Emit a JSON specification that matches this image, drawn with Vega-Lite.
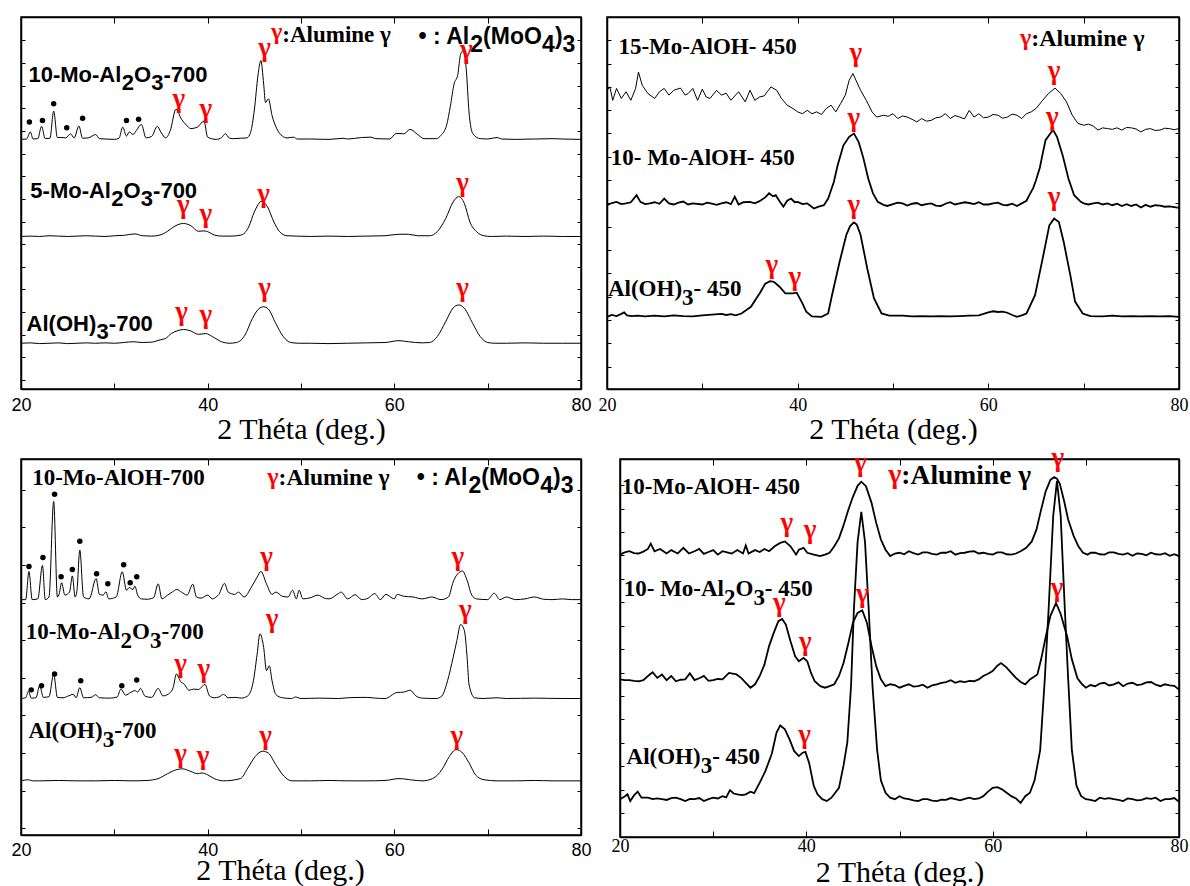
{
"$schema":"https://vega.github.io/schema/vega-lite/v6.json",
"padding":{"left":0,"top":15,"right":0,"bottom":0},
"background":"white",
"config":{"view":{"stroke":"black","strokeWidth":1.5},"axis":{"domainColor":"black","domainWidth":1.5,"tickColor":"black","tickWidth":1,"labelColor":"black","titleColor":"black","grid":false,"labelOverlap":false,"labelFlush":false}},
"datasets":{
"tl":[
{"s":"A","x":20,"y":12.3},{"s":"A","x":21,"y":12.4},{"s":"A","x":22,"y":12.2},{"s":"A","x":23,"y":12.3},{"s":"A","x":24,"y":12.4},{"s":"A","x":25,"y":12.2},{"s":"A","x":26,"y":12.3},{"s":"A","x":27,"y":12.4},{"s":"A","x":28,"y":12.3},{"s":"A","x":29,"y":12.4},{"s":"A","x":30,"y":12.3},{"s":"A","x":31,"y":12.5},{"s":"A","x":32,"y":12.7},{"s":"A","x":33,"y":12.5},{"s":"A","x":34,"y":12.6},{"s":"A","x":34.9,"y":13.2},{"s":"A","x":35.5,"y":13.6},{"s":"A","x":36.1,"y":14.9},{"s":"A","x":36.7,"y":15.6},{"s":"A","x":37.4,"y":16.0},{"s":"A","x":38.2,"y":15.6},{"s":"A","x":39.0,"y":14.7},{"s":"A","x":39.8,"y":14.9},{"s":"A","x":40.5,"y":14.1},{"s":"A","x":41.5,"y":12.7},{"s":"A","x":42.3,"y":12.3},{"s":"A","x":43.1,"y":12.5},{"s":"A","x":44.0,"y":14.5},{"s":"A","x":44.8,"y":19.0},{"s":"A","x":45.6,"y":21.8},{"s":"A","x":46.0,"y":22.1},{"s":"A","x":46.5,"y":21.5},{"s":"A","x":47.3,"y":17.6},{"s":"A","x":48.1,"y":14.1},{"s":"A","x":48.9,"y":12.5},{"s":"A","x":49.8,"y":12.3},{"s":"A","x":51,"y":12.3},{"s":"A","x":53,"y":12.2},{"s":"A","x":55,"y":12.3},{"s":"A","x":57,"y":12.4},{"s":"A","x":59,"y":12.5},{"s":"A","x":60.5,"y":13.0},{"s":"A","x":61.5,"y":12.7},{"s":"A","x":63,"y":12.4},{"s":"A","x":63.8,"y":12.5},{"s":"A","x":64.6,"y":14.1},{"s":"A","x":65.5,"y":18.1},{"s":"A","x":66.3,"y":21.8},{"s":"A","x":66.9,"y":22.6},{"s":"A","x":67.5,"y":21.7},{"s":"A","x":68.4,"y":17.6},{"s":"A","x":69.2,"y":14.1},{"s":"A","x":70.0,"y":12.5},{"s":"A","x":70.8,"y":12.3},{"s":"A","x":72,"y":12.3},{"s":"A","x":74,"y":12.4},{"s":"A","x":76,"y":12.3},{"s":"A","x":78,"y":12.3},{"s":"A","x":80,"y":12.3},
{"s":"B","x":20,"y":41.0},{"s":"B","x":21,"y":41.1},{"s":"B","x":22,"y":41.0},{"s":"B","x":23,"y":41.2},{"s":"B","x":24,"y":41.1},{"s":"B","x":25,"y":41.0},{"s":"B","x":26,"y":41.1},{"s":"B","x":27,"y":41.2},{"s":"B","x":28,"y":41.1},{"s":"B","x":29,"y":41.0},{"s":"B","x":30,"y":41.2},{"s":"B","x":31,"y":41.3},{"s":"B","x":32.2,"y":41.7},{"s":"B","x":33,"y":41.2},{"s":"B","x":34,"y":41.1},{"s":"B","x":34.9,"y":41.4},{"s":"B","x":35.7,"y":42.4},{"s":"B","x":36.5,"y":43.8},{"s":"B","x":37.4,"y":44.5},{"s":"B","x":38.2,"y":43.9},{"s":"B","x":39.0,"y":42.4},{"s":"B","x":39.6,"y":42.5},{"s":"B","x":40.0,"y":42.3},{"s":"B","x":40.7,"y":41.4},{"s":"B","x":41.5,"y":41.1},{"s":"B","x":42.5,"y":41.1},{"s":"B","x":43.6,"y":41.4},{"s":"B","x":44.4,"y":43.6},{"s":"B","x":45.0,"y":47.6},{"s":"B","x":45.8,"y":50.5},{"s":"B","x":46.4,"y":49.0},{"s":"B","x":47.1,"y":44.9},{"s":"B","x":47.7,"y":42.3},{"s":"B","x":48.5,"y":41.2},{"s":"B","x":49.5,"y":41.1},{"s":"B","x":51,"y":41.0},{"s":"B","x":53,"y":41.1},{"s":"B","x":55,"y":41.0},{"s":"B","x":57,"y":41.1},{"s":"B","x":59,"y":41.2},{"s":"B","x":60.5,"y":41.6},{"s":"B","x":61.5,"y":41.6},{"s":"B","x":62.5,"y":41.2},{"s":"B","x":63.8,"y":41.2},{"s":"B","x":64.6,"y":42.3},{"s":"B","x":65.5,"y":45.8},{"s":"B","x":66.3,"y":50.3},{"s":"B","x":66.9,"y":51.7},{"s":"B","x":67.5,"y":49.9},{"s":"B","x":68.1,"y":44.9},{"s":"B","x":68.8,"y":42.3},{"s":"B","x":69.6,"y":41.2},{"s":"B","x":70.4,"y":41.0},{"s":"B","x":72,"y":41.1},{"s":"B","x":74,"y":41.0},{"s":"B","x":76,"y":41.1},{"s":"B","x":78,"y":41.0},{"s":"B","x":80,"y":41.0},
{"s":"C","x":20,"y":67.1},{"s":"C","x":20.6,"y":67.2},{"s":"C","x":21.0,"y":69.1},{"s":"C","x":21.3,"y":67.2},{"s":"C","x":21.8,"y":67.3},{"s":"C","x":22.2,"y":70.6},{"s":"C","x":22.6,"y":67.3},{"s":"C","x":23.1,"y":67.4},{"s":"C","x":23.5,"y":74.7},{"s":"C","x":23.9,"y":67.6},{"s":"C","x":24.4,"y":67.6},{"s":"C","x":24.8,"y":67.5},{"s":"C","x":25.3,"y":68.6},{"s":"C","x":25.7,"y":67.5},{"s":"C","x":26.2,"y":70.7},{"s":"C","x":26.6,"y":67.4},{"s":"C","x":27.2,"y":67.5},{"s":"C","x":28.0,"y":68.4},{"s":"C","x":28.4,"y":67.3},{"s":"C","x":29,"y":67.2},{"s":"C","x":30,"y":67.1},{"s":"C","x":30.5,"y":67.4},{"s":"C","x":30.9,"y":70.4},{"s":"C","x":31.3,"y":68.0},{"s":"C","x":31.6,"y":69.1},{"s":"C","x":32.0,"y":68.4},{"s":"C","x":32.3,"y":69.3},{"s":"C","x":32.9,"y":71.1},{"s":"C","x":33.4,"y":67.5},{"s":"C","x":34.0,"y":67.9},{"s":"C","x":34.6,"y":70.6},{"s":"C","x":35.0,"y":69.0},{"s":"C","x":35.5,"y":67.5},{"s":"C","x":36.0,"y":69.5},{"s":"C","x":36.6,"y":75.2},{"s":"C","x":37.2,"y":72.5},{"s":"C","x":37.7,"y":71.0},{"s":"C","x":38.2,"y":70.0},{"s":"C","x":38.9,"y":70.4},{"s":"C","x":39.6,"y":72.0},{"s":"C","x":40.0,"y":67.7},{"s":"C","x":40.9,"y":67.1},{"s":"C","x":41.5,"y":67.6},{"s":"C","x":41.9,"y":68.6},{"s":"C","x":42.3,"y":67.5},{"s":"C","x":42.7,"y":67.3},{"s":"C","x":43.5,"y":67.4},{"s":"C","x":44.2,"y":67.5},{"s":"C","x":44.6,"y":69.0},{"s":"C","x":45.0,"y":75.0},{"s":"C","x":45.4,"y":84.5},{"s":"C","x":45.7,"y":88.3},{"s":"C","x":46.0,"y":82.0},{"s":"C","x":46.2,"y":77.0},{"s":"C","x":46.5,"y":78.0},{"s":"C","x":46.9,"y":73.5},{"s":"C","x":47.4,"y":70.0},{"s":"C","x":48.0,"y":68.0},{"s":"C","x":48.5,"y":67.5},{"s":"C","x":49.2,"y":67.7},{"s":"C","x":49.6,"y":67.2},{"s":"C","x":51,"y":67.2},{"s":"C","x":53,"y":67.1},{"s":"C","x":54.5,"y":67.4},{"s":"C","x":55,"y":67.2},{"s":"C","x":56.5,"y":67.6},{"s":"C","x":57.5,"y":67.7},{"s":"C","x":58,"y":67.3},{"s":"C","x":59.5,"y":67.2},{"s":"C","x":60.2,"y":68.7},{"s":"C","x":61.0,"y":68.6},{"s":"C","x":61.7,"y":69.8},{"s":"C","x":62.5,"y":68.4},{"s":"C","x":63.2,"y":67.3},{"s":"C","x":64.5,"y":67.3},{"s":"C","x":65.0,"y":68.2},{"s":"C","x":65.6,"y":70.9},{"s":"C","x":66.0,"y":76.0},{"s":"C","x":66.4,"y":82.0},{"s":"C","x":66.8,"y":84.5},{"s":"C","x":67.1,"y":90.0},{"s":"C","x":67.4,"y":91.0},{"s":"C","x":67.7,"y":86.1},{"s":"C","x":68.0,"y":74.5},{"s":"C","x":68.4,"y":68.7},{"s":"C","x":69.2,"y":67.3},{"s":"C","x":70,"y":67.2},{"s":"C","x":71,"y":67.6},{"s":"C","x":71.5,"y":67.2},{"s":"C","x":73,"y":67.1},{"s":"C","x":75,"y":67.2},{"s":"C","x":77,"y":67.3},{"s":"C","x":78,"y":67.2},{"s":"C","x":80,"y":67.1}
],
"tr":[
{"s":"D","x":20,"y":19.4},{"s":"D","x":20.5,"y":19.9},{"s":"D","x":21,"y":19.6},{"s":"D","x":21.5,"y":20.2},{"s":"D","x":21.8,"y":20.6},{"s":"D","x":22.1,"y":19.8},{"s":"D","x":22.6,"y":19.6},{"s":"D","x":23.2,"y":19.7},{"s":"D","x":24,"y":19.5},{"s":"D","x":25,"y":19.7},{"s":"D","x":26,"y":19.5},{"s":"D","x":27,"y":19.8},{"s":"D","x":28,"y":19.6},{"s":"D","x":29,"y":19.5},{"s":"D","x":30,"y":19.8},{"s":"D","x":31,"y":20.0},{"s":"D","x":32,"y":20.2},{"s":"D","x":32.5,"y":19.9},{"s":"D","x":33,"y":20.1},{"s":"D","x":33.5,"y":19.8},{"s":"D","x":34.1,"y":20.3},{"s":"D","x":35.1,"y":22.1},{"s":"D","x":36.1,"y":26.1},{"s":"D","x":36.6,"y":28.3},{"s":"D","x":37.1,"y":29.0},{"s":"D","x":37.5,"y":28.8},{"s":"D","x":38.1,"y":27.5},{"s":"D","x":38.7,"y":25.7},{"s":"D","x":39.45,"y":25.7},{"s":"D","x":39.9,"y":25.9},{"s":"D","x":40.5,"y":23.0},{"s":"D","x":40.9,"y":20.8},{"s":"D","x":41.5,"y":19.5},{"s":"D","x":42.5,"y":19.4},{"s":"D","x":43.2,"y":20.3},{"s":"D","x":43.6,"y":25.2},{"s":"D","x":44.4,"y":34.2},{"s":"D","x":45.1,"y":41.4},{"s":"D","x":45.5,"y":43.8},{"s":"D","x":45.9,"y":44.8},{"s":"D","x":46.2,"y":44.2},{"s":"D","x":46.6,"y":41.4},{"s":"D","x":47.3,"y":32.4},{"s":"D","x":48.0,"y":24.4},{"s":"D","x":48.8,"y":20.3},{"s":"D","x":49.6,"y":19.7},{"s":"D","x":51,"y":19.7},{"s":"D","x":52,"y":19.5},{"s":"D","x":53,"y":19.6},{"s":"D","x":54,"y":19.5},{"s":"D","x":55,"y":19.6},{"s":"D","x":56,"y":19.5},{"s":"D","x":57,"y":19.6},{"s":"D","x":58,"y":19.7},{"s":"D","x":59,"y":19.8},{"s":"D","x":60,"y":20.6},{"s":"D","x":60.5,"y":20.9},{"s":"D","x":61,"y":20.7},{"s":"D","x":61.5,"y":20.8},{"s":"D","x":62,"y":20.5},{"s":"D","x":62.5,"y":19.9},{"s":"D","x":63,"y":19.4},{"s":"D","x":63.5,"y":19.8},{"s":"D","x":64.0,"y":20.3},{"s":"D","x":64.9,"y":25.2},{"s":"D","x":65.7,"y":35.1},{"s":"D","x":66.4,"y":44.0},{"s":"D","x":66.9,"y":45.8},{"s":"D","x":67.4,"y":44.9},{"s":"D","x":67.9,"y":39.6},{"s":"D","x":68.6,"y":30.6},{"s":"D","x":69.1,"y":23.5},{"s":"D","x":69.9,"y":20.3},{"s":"D","x":70.7,"y":19.6},{"s":"D","x":72,"y":19.5},{"s":"D","x":73,"y":19.7},{"s":"D","x":74,"y":19.5},{"s":"D","x":75,"y":19.6},{"s":"D","x":76,"y":19.5},{"s":"D","x":77,"y":19.6},{"s":"D","x":78,"y":19.5},{"s":"D","x":79,"y":19.6},{"s":"D","x":80,"y":19.4},
{"s":"E","x":20,"y":49.4},{"s":"E","x":20.5,"y":50.0},{"s":"E","x":21,"y":50.3},{"s":"E","x":21.5,"y":49.7},{"s":"E","x":22,"y":49.9},{"s":"E","x":22.5,"y":50.2},{"s":"E","x":23.1,"y":52.1},{"s":"E","x":23.5,"y":50.3},{"s":"E","x":24,"y":49.7},{"s":"E","x":24.5,"y":49.9},{"s":"E","x":25,"y":50.2},{"s":"E","x":25.5,"y":49.8},{"s":"E","x":26,"y":51.2},{"s":"E","x":26.5,"y":49.9},{"s":"E","x":27,"y":49.6},{"s":"E","x":27.5,"y":50.1},{"s":"E","x":28,"y":50.4},{"s":"E","x":28.5,"y":49.6},{"s":"E","x":29,"y":49.9},{"s":"E","x":30,"y":49.6},{"s":"E","x":30.5,"y":50.1},{"s":"E","x":31,"y":49.8},{"s":"E","x":31.5,"y":49.5},{"s":"E","x":32,"y":49.9},{"s":"E","x":32.5,"y":50.2},{"s":"E","x":33,"y":49.7},{"s":"E","x":33.4,"y":51.7},{"s":"E","x":33.8,"y":49.6},{"s":"E","x":34.3,"y":50.2},{"s":"E","x":35,"y":50.3},{"s":"E","x":35.5,"y":49.9},{"s":"E","x":36,"y":50.5},{"s":"E","x":36.6,"y":51.5},{"s":"E","x":37.0,"y":52.6},{"s":"E","x":37.4,"y":51.8},{"s":"E","x":37.7,"y":52.1},{"s":"E","x":38.1,"y":50.5},{"s":"E","x":38.5,"y":49.0},{"s":"E","x":38.9,"y":50.6},{"s":"E","x":39.3,"y":51.2},{"s":"E","x":39.7,"y":50.2},{"s":"E","x":40.0,"y":50.3},{"s":"E","x":40.5,"y":49.7},{"s":"E","x":41,"y":49.9},{"s":"E","x":41.7,"y":48.5},{"s":"E","x":42.2,"y":49.0},{"s":"E","x":42.75,"y":49.4},{"s":"E","x":43.2,"y":51.2},{"s":"E","x":43.8,"y":55.7},{"s":"E","x":44.2,"y":60.2},{"s":"E","x":44.8,"y":65.5},{"s":"E","x":45.4,"y":67.8},{"s":"E","x":45.9,"y":68.7},{"s":"E","x":46.4,"y":66.4},{"s":"E","x":46.9,"y":62.0},{"s":"E","x":47.4,"y":56.6},{"s":"E","x":47.9,"y":52.6},{"s":"E","x":48.4,"y":50.3},{"s":"E","x":49.0,"y":49.5},{"s":"E","x":49.4,"y":49.2},{"s":"E","x":50,"y":49.7},{"s":"E","x":50.5,"y":50.1},{"s":"E","x":51,"y":49.9},{"s":"E","x":51.5,"y":49.3},{"s":"E","x":52,"y":49.8},{"s":"E","x":52.5,"y":50.0},{"s":"E","x":53,"y":49.4},{"s":"E","x":53.5,"y":49.7},{"s":"E","x":54,"y":49.9},{"s":"E","x":54.5,"y":49.3},{"s":"E","x":55,"y":49.2},{"s":"E","x":55.5,"y":49.8},{"s":"E","x":56,"y":50.2},{"s":"E","x":56.5,"y":49.6},{"s":"E","x":57,"y":49.9},{"s":"E","x":57.5,"y":50.2},{"s":"E","x":58,"y":50.0},{"s":"E","x":58.5,"y":49.7},{"s":"E","x":59,"y":50.2},{"s":"E","x":59.5,"y":49.6},{"s":"E","x":60,"y":49.6},{"s":"E","x":60.5,"y":49.9},{"s":"E","x":61,"y":50.1},{"s":"E","x":61.5,"y":49.5},{"s":"E","x":62,"y":49.4},{"s":"E","x":62.5,"y":49.8},{"s":"E","x":63,"y":49.2},{"s":"E","x":63.5,"y":49.9},{"s":"E","x":64.0,"y":50.6},{"s":"E","x":64.3,"y":52.1},{"s":"E","x":64.7,"y":54.0},{"s":"E","x":65.0,"y":56.1},{"s":"E","x":65.4,"y":59.5},{"s":"E","x":65.6,"y":62.0},{"s":"E","x":66.0,"y":66.9},{"s":"E","x":66.5,"y":68.7},{"s":"E","x":66.8,"y":69.6},{"s":"E","x":67.2,"y":67.8},{"s":"E","x":67.8,"y":62.8},{"s":"E","x":68.4,"y":56.6},{"s":"E","x":69.0,"y":52.1},{"s":"E","x":69.7,"y":50.3},{"s":"E","x":70,"y":49.9},{"s":"E","x":70.5,"y":49.6},{"s":"E","x":71,"y":49.9},{"s":"E","x":71.5,"y":50.1},{"s":"E","x":72,"y":49.6},{"s":"E","x":72.5,"y":49.9},{"s":"E","x":73,"y":49.4},{"s":"E","x":73.5,"y":49.8},{"s":"E","x":74,"y":49.2},{"s":"E","x":74.5,"y":49.7},{"s":"E","x":75,"y":49.2},{"s":"E","x":75.5,"y":49.6},{"s":"E","x":76,"y":48.8},{"s":"E","x":76.5,"y":49.5},{"s":"E","x":77,"y":49.0},{"s":"E","x":77.5,"y":49.4},{"s":"E","x":78,"y":49.3},{"s":"E","x":78.5,"y":49.0},{"s":"E","x":79,"y":49.1},{"s":"E","x":79.5,"y":48.9},{"s":"E","x":80,"y":48.7},
{"s":"F","x":20,"y":80.3},{"s":"F","x":20.3,"y":81.2},{"s":"F","x":20.6,"y":77.6},{"s":"F","x":21.0,"y":80.8},{"s":"F","x":21.5,"y":78.1},{"s":"F","x":22,"y":79.9},{"s":"F","x":22.5,"y":77.6},{"s":"F","x":23,"y":80.8},{"s":"F","x":23.3,"y":85.2},{"s":"F","x":23.7,"y":81.6},{"s":"F","x":24.3,"y":79.4},{"s":"F","x":25,"y":78.1},{"s":"F","x":25.5,"y":79.9},{"s":"F","x":26,"y":80.8},{"s":"F","x":26.5,"y":79.0},{"s":"F","x":27,"y":80.3},{"s":"F","x":27.7,"y":80.9},{"s":"F","x":28.2,"y":79.0},{"s":"F","x":28.5,"y":79.4},{"s":"F","x":29,"y":80.8},{"s":"F","x":29.5,"y":77.6},{"s":"F","x":30,"y":80.6},{"s":"F","x":30.4,"y":78.5},{"s":"F","x":30.8,"y":78.1},{"s":"F","x":31.5,"y":80.3},{"s":"F","x":32,"y":79.0},{"s":"F","x":32.5,"y":79.5},{"s":"F","x":33,"y":77.6},{"s":"F","x":33.8,"y":79.9},{"s":"F","x":34.5,"y":77.2},{"s":"F","x":35,"y":80.3},{"s":"F","x":35.5,"y":77.6},{"s":"F","x":36,"y":78.5},{"s":"F","x":36.5,"y":78.8},{"s":"F","x":36.8,"y":79.9},{"s":"F","x":37.2,"y":81.2},{"s":"F","x":37.8,"y":80.3},{"s":"F","x":38.3,"y":78.1},{"s":"F","x":38.9,"y":76.3},{"s":"F","x":39.5,"y":75.4},{"s":"F","x":40,"y":74.5},{"s":"F","x":40.5,"y":74.0},{"s":"F","x":41,"y":74.9},{"s":"F","x":41.5,"y":74.0},{"s":"F","x":42,"y":74.5},{"s":"F","x":42.5,"y":73.8},{"s":"F","x":43,"y":75.4},{"s":"F","x":43.5,"y":76.3},{"s":"F","x":44,"y":74.5},{"s":"F","x":44.5,"y":76.7},{"s":"F","x":45,"y":79.0},{"s":"F","x":45.4,"y":83.0},{"s":"F","x":45.8,"y":84.8},{"s":"F","x":46.2,"y":82.5},{"s":"F","x":46.6,"y":80.3},{"s":"F","x":47.2,"y":77.6},{"s":"F","x":47.8,"y":74.5},{"s":"F","x":48.3,"y":73.1},{"s":"F","x":49,"y":73.6},{"s":"F","x":49.5,"y":73.3},{"s":"F","x":50,"y":74.0},{"s":"F","x":50.5,"y":72.7},{"s":"F","x":51,"y":73.4},{"s":"F","x":51.5,"y":73.1},{"s":"F","x":52,"y":72.5},{"s":"F","x":52.5,"y":71.8},{"s":"F","x":53,"y":72.7},{"s":"F","x":53.5,"y":72.0},{"s":"F","x":54,"y":72.2},{"s":"F","x":54.5,"y":72.9},{"s":"F","x":55,"y":73.1},{"s":"F","x":55.5,"y":74.0},{"s":"F","x":56,"y":72.7},{"s":"F","x":56.5,"y":73.5},{"s":"F","x":57,"y":73.1},{"s":"F","x":57.5,"y":72.6},{"s":"F","x":58,"y":74.9},{"s":"F","x":58.5,"y":73.1},{"s":"F","x":59,"y":74.0},{"s":"F","x":59.5,"y":72.9},{"s":"F","x":60,"y":73.1},{"s":"F","x":60.5,"y":73.8},{"s":"F","x":61,"y":73.6},{"s":"F","x":61.5,"y":72.8},{"s":"F","x":62,"y":73.1},{"s":"F","x":62.5,"y":73.9},{"s":"F","x":63,"y":73.6},{"s":"F","x":63.5,"y":72.7},{"s":"F","x":64,"y":74.0},{"s":"F","x":64.5,"y":74.5},{"s":"F","x":65,"y":75.4},{"s":"F","x":65.7,"y":77.6},{"s":"F","x":66.3,"y":79.4},{"s":"F","x":67,"y":80.9},{"s":"F","x":67.6,"y":79.4},{"s":"F","x":68.2,"y":77.2},{"s":"F","x":68.8,"y":73.6},{"s":"F","x":69.4,"y":71.4},{"s":"F","x":70,"y":70.9},{"s":"F","x":70.5,"y":71.2},{"s":"F","x":71,"y":70.7},{"s":"F","x":71.5,"y":69.6},{"s":"F","x":72,"y":70.2},{"s":"F","x":72.5,"y":70.0},{"s":"F","x":73,"y":69.8},{"s":"F","x":73.5,"y":70.2},{"s":"F","x":74,"y":69.6},{"s":"F","x":74.5,"y":70.3},{"s":"F","x":75,"y":70.2},{"s":"F","x":75.5,"y":69.9},{"s":"F","x":76,"y":69.1},{"s":"F","x":76.5,"y":69.8},{"s":"F","x":77,"y":70.0},{"s":"F","x":77.5,"y":69.5},{"s":"F","x":78,"y":69.6},{"s":"F","x":78.5,"y":70.1},{"s":"F","x":79,"y":70.0},{"s":"F","x":79.5,"y":69.7},{"s":"F","x":80,"y":70.0}
],
"bl":[
{"s":"G","x":20,"y":14.4},{"s":"G","x":20.8,"y":14.7},{"s":"G","x":21.2,"y":14.4},{"s":"G","x":22,"y":14.4},{"s":"G","x":24,"y":14.5},{"s":"G","x":26,"y":14.4},{"s":"G","x":28,"y":14.4},{"s":"G","x":30,"y":14.5},{"s":"G","x":32,"y":14.4},{"s":"G","x":33.5,"y":14.5},{"s":"G","x":34.7,"y":15.0},{"s":"G","x":35.7,"y":16.3},{"s":"G","x":36.7,"y":17.4},{"s":"G","x":37.3,"y":17.6},{"s":"G","x":38.2,"y":16.9},{"s":"G","x":38.9,"y":16.3},{"s":"G","x":39.4,"y":16.5},{"s":"G","x":40.0,"y":16.0},{"s":"G","x":40.7,"y":15.0},{"s":"G","x":41.7,"y":14.4},{"s":"G","x":43.5,"y":15.0},{"s":"G","x":44.3,"y":17.8},{"s":"G","x":45.1,"y":20.9},{"s":"G","x":45.9,"y":22.3},{"s":"G","x":46.5,"y":21.8},{"s":"G","x":47.3,"y":18.7},{"s":"G","x":48.2,"y":15.6},{"s":"G","x":49.0,"y":14.4},{"s":"G","x":51,"y":14.4},{"s":"G","x":53,"y":14.5},{"s":"G","x":55,"y":14.4},{"s":"G","x":57,"y":14.4},{"s":"G","x":59,"y":14.5},{"s":"G","x":60.5,"y":15.0},{"s":"G","x":62,"y":14.6},{"s":"G","x":63,"y":14.4},{"s":"G","x":64.1,"y":15.0},{"s":"G","x":65.1,"y":17.4},{"s":"G","x":65.9,"y":20.9},{"s":"G","x":66.6,"y":22.7},{"s":"G","x":67.1,"y":22.3},{"s":"G","x":68.0,"y":19.2},{"s":"G","x":68.7,"y":16.0},{"s":"G","x":69.6,"y":14.7},{"s":"G","x":71,"y":14.4},{"s":"G","x":73,"y":14.4},{"s":"G","x":75,"y":14.5},{"s":"G","x":77,"y":14.4},{"s":"G","x":80,"y":14.4},
{"s":"H","x":20,"y":36.3},{"s":"H","x":20.5,"y":36.5},{"s":"H","x":20.8,"y":38.2},{"s":"H","x":21.1,"y":36.4},{"s":"H","x":21.6,"y":36.5},{"s":"H","x":22.0,"y":39.7},{"s":"H","x":22.4,"y":36.6},{"s":"H","x":23.0,"y":36.8},{"s":"H","x":23.5,"y":42.8},{"s":"H","x":23.9,"y":36.6},{"s":"H","x":24.5,"y":36.5},{"s":"H","x":25.0,"y":36.9},{"s":"H","x":25.6,"y":37.4},{"s":"H","x":25.9,"y":36.5},{"s":"H","x":26.3,"y":39.2},{"s":"H","x":26.7,"y":36.5},{"s":"H","x":27.5,"y":36.6},{"s":"H","x":28.0,"y":37.3},{"s":"H","x":28.4,"y":36.5},{"s":"H","x":29.5,"y":36.4},{"s":"H","x":30.3,"y":36.7},{"s":"H","x":30.7,"y":38.8},{"s":"H","x":31.2,"y":37.2},{"s":"H","x":31.8,"y":38.0},{"s":"H","x":32.2,"y":38.4},{"s":"H","x":32.5,"y":38.0},{"s":"H","x":32.8,"y":39.0},{"s":"H","x":33.3,"y":36.9},{"s":"H","x":34.0,"y":36.6},{"s":"H","x":34.7,"y":39.0},{"s":"H","x":35.2,"y":37.0},{"s":"H","x":35.8,"y":37.5},{"s":"H","x":36.3,"y":39.2},{"s":"H","x":36.65,"y":42.8},{"s":"H","x":37.1,"y":40.8},{"s":"H","x":37.5,"y":40.1},{"s":"H","x":38.0,"y":38.5},{"s":"H","x":38.5,"y":38.8},{"s":"H","x":39.0,"y":38.7},{"s":"H","x":39.3,"y":39.2},{"s":"H","x":39.7,"y":40.1},{"s":"H","x":40.2,"y":37.0},{"s":"H","x":40.7,"y":36.5},{"s":"H","x":41.2,"y":36.7},{"s":"H","x":41.7,"y":37.4},{"s":"H","x":42.2,"y":36.5},{"s":"H","x":43,"y":36.6},{"s":"H","x":43.6,"y":36.4},{"s":"H","x":44.3,"y":37.0},{"s":"H","x":44.9,"y":41.0},{"s":"H","x":45.3,"y":48.1},{"s":"H","x":45.6,"y":53.5},{"s":"H","x":46.0,"y":49.9},{"s":"H","x":46.3,"y":43.7},{"s":"H","x":46.6,"y":45.0},{"s":"H","x":46.9,"y":41.0},{"s":"H","x":47.3,"y":37.4},{"s":"H","x":48.0,"y":36.5},{"s":"H","x":49.0,"y":36.3},{"s":"H","x":49.4,"y":36.7},{"s":"H","x":50,"y":36.3},{"s":"H","x":52,"y":36.4},{"s":"H","x":54,"y":36.3},{"s":"H","x":55,"y":36.5},{"s":"H","x":57,"y":36.6},{"s":"H","x":58,"y":36.4},{"s":"H","x":59,"y":36.3},{"s":"H","x":60.3,"y":37.9},{"s":"H","x":61.0,"y":38.0},{"s":"H","x":61.7,"y":38.5},{"s":"H","x":62.3,"y":37.0},{"s":"H","x":63,"y":36.4},{"s":"H","x":64.5,"y":36.3},{"s":"H","x":65.1,"y":37.0},{"s":"H","x":65.7,"y":41.0},{"s":"H","x":66.3,"y":47.2},{"s":"H","x":66.7,"y":51.7},{"s":"H","x":67.1,"y":56.0},{"s":"H","x":67.5,"y":54.4},{"s":"H","x":67.8,"y":47.2},{"s":"H","x":68.0,"y":40.1},{"s":"H","x":68.6,"y":36.5},{"s":"H","x":69.5,"y":36.3},{"s":"H","x":71,"y":36.5},{"s":"H","x":72,"y":36.3},{"s":"H","x":75,"y":36.4},{"s":"H","x":78,"y":36.3},{"s":"H","x":80,"y":36.3},
{"s":"I","x":20,"y":62.6},{"s":"I","x":20.5,"y":62.6},{"s":"I","x":20.85,"y":70.1},{"s":"I","x":21.2,"y":62.6},{"s":"I","x":21.8,"y":62.8},{"s":"I","x":22.3,"y":71.7},{"s":"I","x":22.6,"y":62.6},{"s":"I","x":23.0,"y":63.3},{"s":"I","x":23.5,"y":88.7},{"s":"I","x":23.9,"y":63.3},{"s":"I","x":24.1,"y":64.2},{"s":"I","x":24.35,"y":67.1},{"s":"I","x":24.7,"y":63.8},{"s":"I","x":25.2,"y":64.6},{"s":"I","x":25.5,"y":68.9},{"s":"I","x":25.8,"y":63.3},{"s":"I","x":26.0,"y":65.1},{"s":"I","x":26.3,"y":75.8},{"s":"I","x":26.7,"y":63.3},{"s":"I","x":27.3,"y":62.8},{"s":"I","x":28.05,"y":68.2},{"s":"I","x":28.4,"y":64.0},{"s":"I","x":28.8,"y":63.8},{"s":"I","x":29.1,"y":64.7},{"s":"I","x":29.4,"y":62.8},{"s":"I","x":30.2,"y":63.3},{"s":"I","x":30.85,"y":70.0},{"s":"I","x":31.3,"y":65.1},{"s":"I","x":31.6,"y":65.8},{"s":"I","x":32.0,"y":65.3},{"s":"I","x":32.2,"y":66.2},{"s":"I","x":32.5,"y":63.8},{"s":"I","x":32.9,"y":62.8},{"s":"I","x":33.5,"y":62.7},{"s":"I","x":34.2,"y":63.1},{"s":"I","x":34.7,"y":66.8},{"s":"I","x":35.1,"y":62.8},{"s":"I","x":35.7,"y":63.8},{"s":"I","x":36.2,"y":64.6},{"s":"I","x":36.7,"y":65.3},{"s":"I","x":37.2,"y":64.6},{"s":"I","x":37.8,"y":63.8},{"s":"I","x":38.4,"y":66.7},{"s":"I","x":38.8,"y":63.3},{"s":"I","x":39.3,"y":63.0},{"s":"I","x":40.0,"y":63.8},{"s":"I","x":40.5,"y":62.8},{"s":"I","x":40.9,"y":63.3},{"s":"I","x":41.2,"y":64.0},{"s":"I","x":41.8,"y":66.9},{"s":"I","x":42.2,"y":64.6},{"s":"I","x":42.9,"y":64.0},{"s":"I","x":43.3,"y":64.6},{"s":"I","x":43.9,"y":63.3},{"s":"I","x":44.7,"y":66.0},{"s":"I","x":45.3,"y":68.6},{"s":"I","x":45.7,"y":70.1},{"s":"I","x":46.3,"y":66.8},{"s":"I","x":46.9,"y":64.0},{"s":"I","x":47.3,"y":64.6},{"s":"I","x":48.0,"y":63.5},{"s":"I","x":48.6,"y":63.3},{"s":"I","x":49.1,"y":65.1},{"s":"I","x":49.5,"y":62.8},{"s":"I","x":49.8,"y":65.1},{"s":"I","x":50.2,"y":62.8},{"s":"I","x":51,"y":63.1},{"s":"I","x":51.8,"y":63.8},{"s":"I","x":52.5,"y":63.0},{"s":"I","x":53,"y":62.8},{"s":"I","x":54,"y":64.2},{"s":"I","x":54.3,"y":64.6},{"s":"I","x":55,"y":62.8},{"s":"I","x":55.8,"y":63.9},{"s":"I","x":56.5,"y":62.6},{"s":"I","x":57.2,"y":63.0},{"s":"I","x":57.9,"y":64.2},{"s":"I","x":58.5,"y":62.6},{"s":"I","x":59.1,"y":64.0},{"s":"I","x":60,"y":62.8},{"s":"I","x":60.3,"y":64.0},{"s":"I","x":61.0,"y":63.5},{"s":"I","x":62.0,"y":63.3},{"s":"I","x":63,"y":62.8},{"s":"I","x":64.0,"y":63.3},{"s":"I","x":65.0,"y":62.6},{"s":"I","x":65.8,"y":63.3},{"s":"I","x":66.3,"y":67.3},{"s":"I","x":66.8,"y":69.5},{"s":"I","x":67.3,"y":70.2},{"s":"I","x":67.8,"y":67.7},{"s":"I","x":68.3,"y":63.8},{"s":"I","x":68.8,"y":62.8},{"s":"I","x":70,"y":62.6},{"s":"I","x":70.7,"y":64.3},{"s":"I","x":71.3,"y":62.6},{"s":"I","x":72.0,"y":63.3},{"s":"I","x":73,"y":62.6},{"s":"I","x":74,"y":62.8},{"s":"I","x":75,"y":63.3},{"s":"I","x":76,"y":62.7},{"s":"I","x":77,"y":62.6},{"s":"I","x":78,"y":62.8},{"s":"I","x":79,"y":62.6},{"s":"I","x":80,"y":62.6}
],
"br":[
{"s":"J","x":20,"y":10.0},{"s":"J","x":20.5,"y":10.7},{"s":"J","x":20.8,"y":11.3},{"s":"J","x":21.1,"y":9.5},{"s":"J","x":21.5,"y":11.0},{"s":"J","x":21.9,"y":12.0},{"s":"J","x":22.3,"y":10.4},{"s":"J","x":23,"y":10.4},{"s":"J","x":23.5,"y":10.0},{"s":"J","x":24,"y":10.2},{"s":"J","x":24.5,"y":10.0},{"s":"J","x":25,"y":9.8},{"s":"J","x":25.5,"y":10.3},{"s":"J","x":26,"y":10.4},{"s":"J","x":26.5,"y":10.0},{"s":"J","x":27,"y":9.5},{"s":"J","x":27.5,"y":10.1},{"s":"J","x":28,"y":10.0},{"s":"J","x":28.5,"y":10.3},{"s":"J","x":29,"y":9.5},{"s":"J","x":29.5,"y":10.0},{"s":"J","x":30,"y":10.4},{"s":"J","x":30.5,"y":10.2},{"s":"J","x":31,"y":10.8},{"s":"J","x":31.4,"y":10.5},{"s":"J","x":31.8,"y":12.4},{"s":"J","x":32.2,"y":11.5},{"s":"J","x":32.6,"y":11.3},{"s":"J","x":33.1,"y":11.1},{"s":"J","x":33.5,"y":11.3},{"s":"J","x":34,"y":12.0},{"s":"J","x":34.4,"y":11.6},{"s":"J","x":35.0,"y":14.4},{"s":"J","x":35.6,"y":17.4},{"s":"J","x":36.3,"y":22.1},{"s":"J","x":36.8,"y":27.6},{"s":"J","x":37.2,"y":29.5},{"s":"J","x":37.7,"y":28.5},{"s":"J","x":38.2,"y":25.8},{"s":"J","x":38.7,"y":22.7},{"s":"J","x":39.2,"y":21.4},{"s":"J","x":39.6,"y":22.3},{"s":"J","x":39.9,"y":22.5},{"s":"J","x":40.3,"y":19.6},{"s":"J","x":40.8,"y":13.5},{"s":"J","x":41.2,"y":11.3},{"s":"J","x":41.7,"y":10.0},{"s":"J","x":42.2,"y":9.5},{"s":"J","x":42.7,"y":10.4},{"s":"J","x":43.5,"y":13.0},{"s":"J","x":44.0,"y":19.0},{"s":"J","x":44.4,"y":25.0},{"s":"J","x":44.8,"y":40.0},{"s":"J","x":45.1,"y":60.0},{"s":"J","x":45.5,"y":78.0},{"s":"J","x":45.9,"y":86.0},{"s":"J","x":46.3,"y":78.0},{"s":"J","x":46.7,"y":60.0},{"s":"J","x":47.1,"y":40.0},{"s":"J","x":47.6,"y":23.0},{"s":"J","x":48.0,"y":15.0},{"s":"J","x":48.5,"y":11.7},{"s":"J","x":49,"y":10.4},{"s":"J","x":49.5,"y":10.0},{"s":"J","x":50,"y":10.8},{"s":"J","x":50.5,"y":10.2},{"s":"J","x":51,"y":10.0},{"s":"J","x":51.5,"y":9.7},{"s":"J","x":52,"y":9.5},{"s":"J","x":52.5,"y":10.0},{"s":"J","x":53,"y":10.0},{"s":"J","x":53.5,"y":9.6},{"s":"J","x":54,"y":9.5},{"s":"J","x":54.5,"y":9.9},{"s":"J","x":55,"y":9.8},{"s":"J","x":55.5,"y":10.3},{"s":"J","x":56,"y":10.0},{"s":"J","x":56.5,"y":9.7},{"s":"J","x":57,"y":10.1},{"s":"J","x":57.5,"y":10.4},{"s":"J","x":58,"y":10.0},{"s":"J","x":58.5,"y":10.2},{"s":"J","x":59,"y":10.8},{"s":"J","x":59.5,"y":12.0},{"s":"J","x":60,"y":13.0},{"s":"J","x":60.5,"y":13.2},{"s":"J","x":61,"y":12.6},{"s":"J","x":61.5,"y":11.7},{"s":"J","x":62,"y":10.8},{"s":"J","x":62.5,"y":10.2},{"s":"J","x":63,"y":9.0},{"s":"J","x":63.5,"y":10.8},{"s":"J","x":64,"y":11.7},{"s":"J","x":64.5,"y":15.0},{"s":"J","x":65.1,"y":23.0},{"s":"J","x":65.6,"y":42.0},{"s":"J","x":66.0,"y":60.0},{"s":"J","x":66.5,"y":85.0},{"s":"J","x":66.9,"y":94.2},{"s":"J","x":67.3,"y":85.0},{"s":"J","x":67.75,"y":60.0},{"s":"J","x":68.1,"y":42.0},{"s":"J","x":68.5,"y":23.0},{"s":"J","x":69.0,"y":13.5},{"s":"J","x":69.5,"y":10.8},{"s":"J","x":70,"y":10.0},{"s":"J","x":70.5,"y":9.8},{"s":"J","x":71,"y":9.5},{"s":"J","x":71.5,"y":10.4},{"s":"J","x":72,"y":10.1},{"s":"J","x":72.5,"y":10.3},{"s":"J","x":73,"y":10.0},{"s":"J","x":73.5,"y":9.8},{"s":"J","x":74,"y":9.5},{"s":"J","x":74.5,"y":10.2},{"s":"J","x":75,"y":10.0},{"s":"J","x":75.5,"y":9.7},{"s":"J","x":76,"y":9.8},{"s":"J","x":76.5,"y":10.3},{"s":"J","x":77,"y":10.1},{"s":"J","x":77.5,"y":10.4},{"s":"J","x":78,"y":9.5},{"s":"J","x":78.5,"y":10.0},{"s":"J","x":79,"y":10.0},{"s":"J","x":79.5,"y":10.3},{"s":"J","x":80,"y":9.3},
{"s":"L","x":20,"y":41.7},{"s":"L","x":20.5,"y":41.5},{"s":"L","x":21,"y":41.5},{"s":"L","x":21.5,"y":41.3},{"s":"L","x":22,"y":41.2},{"s":"L","x":22.5,"y":41.5},{"s":"L","x":23,"y":42.6},{"s":"L","x":23.5,"y":43.6},{"s":"L","x":24,"y":42.1},{"s":"L","x":24.5,"y":43.0},{"s":"L","x":25,"y":41.5},{"s":"L","x":25.5,"y":42.6},{"s":"L","x":26,"y":41.2},{"s":"L","x":26.5,"y":41.6},{"s":"L","x":27,"y":41.7},{"s":"L","x":27.5,"y":43.3},{"s":"L","x":28,"y":41.5},{"s":"L","x":28.5,"y":42.0},{"s":"L","x":29,"y":42.6},{"s":"L","x":29.5,"y":41.3},{"s":"L","x":30,"y":41.5},{"s":"L","x":30.5,"y":41.8},{"s":"L","x":31,"y":41.7},{"s":"L","x":31.7,"y":43.4},{"s":"L","x":32.5,"y":43.0},{"s":"L","x":33,"y":42.1},{"s":"L","x":33.5,"y":40.8},{"s":"L","x":34,"y":39.5},{"s":"L","x":34.5,"y":40.4},{"s":"L","x":35,"y":42.6},{"s":"L","x":35.5,"y":45.6},{"s":"L","x":36,"y":50.5},{"s":"L","x":36.5,"y":54.0},{"s":"L","x":37,"y":57.1},{"s":"L","x":37.4,"y":57.7},{"s":"L","x":37.8,"y":56.2},{"s":"L","x":38.3,"y":51.8},{"s":"L","x":38.8,"y":47.8},{"s":"L","x":39.2,"y":46.5},{"s":"L","x":39.7,"y":47.4},{"s":"L","x":40.1,"y":46.5},{"s":"L","x":40.5,"y":43.4},{"s":"L","x":40.9,"y":41.2},{"s":"L","x":41.5,"y":39.9},{"s":"L","x":42,"y":39.5},{"s":"L","x":42.5,"y":39.9},{"s":"L","x":43,"y":40.4},{"s":"L","x":43.5,"y":42.6},{"s":"L","x":44,"y":46.1},{"s":"L","x":44.5,"y":51.2},{"s":"L","x":45,"y":56.7},{"s":"L","x":45.5,"y":59.3},{"s":"L","x":46,"y":60.0},{"s":"L","x":46.5,"y":56.7},{"s":"L","x":47,"y":50.5},{"s":"L","x":47.5,"y":45.2},{"s":"L","x":48,"y":41.7},{"s":"L","x":48.5,"y":39.9},{"s":"L","x":49,"y":40.4},{"s":"L","x":49.5,"y":40.2},{"s":"L","x":50,"y":39.5},{"s":"L","x":50.5,"y":40.0},{"s":"L","x":51,"y":40.4},{"s":"L","x":51.5,"y":39.8},{"s":"L","x":52,"y":39.9},{"s":"L","x":52.5,"y":40.3},{"s":"L","x":53,"y":39.5},{"s":"L","x":53.5,"y":40.1},{"s":"L","x":54,"y":40.4},{"s":"L","x":54.5,"y":40.8},{"s":"L","x":55,"y":41.0},{"s":"L","x":55.5,"y":41.5},{"s":"L","x":56,"y":40.8},{"s":"L","x":56.5,"y":41.2},{"s":"L","x":57,"y":41.0},{"s":"L","x":57.5,"y":41.3},{"s":"L","x":58,"y":41.2},{"s":"L","x":58.5,"y":41.7},{"s":"L","x":59,"y":42.6},{"s":"L","x":59.5,"y":43.2},{"s":"L","x":60,"y":43.9},{"s":"L","x":60.5,"y":45.3},{"s":"L","x":60.9,"y":46.0},{"s":"L","x":61.5,"y":44.8},{"s":"L","x":62,"y":43.4},{"s":"L","x":62.5,"y":42.1},{"s":"L","x":63,"y":41.0},{"s":"L","x":63.5,"y":40.4},{"s":"L","x":64,"y":41.7},{"s":"L","x":64.8,"y":43.0},{"s":"L","x":65.2,"y":47.0},{"s":"L","x":65.7,"y":53.0},{"s":"L","x":66.2,"y":58.5},{"s":"L","x":66.8,"y":61.9},{"s":"L","x":67.3,"y":59.0},{"s":"L","x":68.0,"y":53.0},{"s":"L","x":68.5,"y":47.0},{"s":"L","x":69.1,"y":42.0},{"s":"L","x":69.6,"y":40.4},{"s":"L","x":70,"y":39.5},{"s":"L","x":70.5,"y":40.2},{"s":"L","x":71,"y":39.9},{"s":"L","x":71.5,"y":40.6},{"s":"L","x":72,"y":40.8},{"s":"L","x":72.5,"y":40.1},{"s":"L","x":73,"y":40.4},{"s":"L","x":73.5,"y":40.9},{"s":"L","x":74,"y":39.9},{"s":"L","x":74.5,"y":40.6},{"s":"L","x":75,"y":40.8},{"s":"L","x":75.5,"y":40.2},{"s":"L","x":76,"y":40.4},{"s":"L","x":76.5,"y":40.9},{"s":"L","x":77,"y":41.0},{"s":"L","x":77.5,"y":40.3},{"s":"L","x":78,"y":39.9},{"s":"L","x":78.5,"y":40.4},{"s":"L","x":79,"y":40.1},{"s":"L","x":79.5,"y":40.0},{"s":"L","x":80,"y":39.0},
{"s":"K","x":20,"y":74.7},{"s":"K","x":20.5,"y":75.3},{"s":"K","x":21,"y":75.6},{"s":"K","x":21.5,"y":75.1},{"s":"K","x":22,"y":75.0},{"s":"K","x":22.5,"y":75.5},{"s":"K","x":23,"y":76.2},{"s":"K","x":23.3,"y":77.6},{"s":"K","x":23.7,"y":75.6},{"s":"K","x":24.3,"y":76.2},{"s":"K","x":25,"y":75.0},{"s":"K","x":25.5,"y":75.9},{"s":"K","x":26.2,"y":75.0},{"s":"K","x":26.8,"y":76.5},{"s":"K","x":27.4,"y":75.0},{"s":"K","x":28,"y":75.6},{"s":"K","x":28.5,"y":76.2},{"s":"K","x":29,"y":74.9},{"s":"K","x":29.5,"y":75.4},{"s":"K","x":30,"y":75.9},{"s":"K","x":30.5,"y":74.7},{"s":"K","x":31,"y":75.6},{"s":"K","x":31.5,"y":75.3},{"s":"K","x":32,"y":75.0},{"s":"K","x":32.6,"y":75.9},{"s":"K","x":33.2,"y":75.0},{"s":"K","x":33.5,"y":77.1},{"s":"K","x":33.8,"y":75.0},{"s":"K","x":34.5,"y":75.9},{"s":"K","x":35,"y":75.4},{"s":"K","x":35.5,"y":76.2},{"s":"K","x":36,"y":75.6},{"s":"K","x":36.6,"y":76.9},{"s":"K","x":37.2,"y":77.8},{"s":"K","x":37.7,"y":78.2},{"s":"K","x":38.3,"y":76.9},{"s":"K","x":38.9,"y":74.7},{"s":"K","x":39.2,"y":76.0},{"s":"K","x":39.7,"y":76.5},{"s":"K","x":40.1,"y":75.2},{"s":"K","x":40.8,"y":74.7},{"s":"K","x":41.5,"y":74.3},{"s":"K","x":42,"y":74.7},{"s":"K","x":42.5,"y":75.2},{"s":"K","x":43,"y":76.9},{"s":"K","x":43.5,"y":79.0},{"s":"K","x":44.0,"y":82.5},{"s":"K","x":44.5,"y":86.5},{"s":"K","x":45.0,"y":90.0},{"s":"K","x":45.5,"y":92.9},{"s":"K","x":45.9,"y":94.0},{"s":"K","x":46.4,"y":92.8},{"s":"K","x":47.0,"y":88.4},{"s":"K","x":47.5,"y":83.1},{"s":"K","x":48.0,"y":78.7},{"s":"K","x":48.5,"y":76.0},{"s":"K","x":49,"y":74.3},{"s":"K","x":49.5,"y":75.0},{"s":"K","x":50,"y":75.2},{"s":"K","x":50.5,"y":74.8},{"s":"K","x":51,"y":75.6},{"s":"K","x":51.5,"y":75.1},{"s":"K","x":52,"y":74.7},{"s":"K","x":52.5,"y":75.3},{"s":"K","x":53,"y":75.3},{"s":"K","x":53.5,"y":74.9},{"s":"K","x":54,"y":74.7},{"s":"K","x":54.5,"y":75.2},{"s":"K","x":55,"y":75.2},{"s":"K","x":55.5,"y":75.6},{"s":"K","x":56,"y":74.7},{"s":"K","x":56.5,"y":75.1},{"s":"K","x":57,"y":75.2},{"s":"K","x":57.5,"y":75.5},{"s":"K","x":58,"y":75.6},{"s":"K","x":58.5,"y":75.0},{"s":"K","x":59,"y":75.2},{"s":"K","x":59.5,"y":74.9},{"s":"K","x":60,"y":74.7},{"s":"K","x":60.5,"y":75.3},{"s":"K","x":61,"y":75.3},{"s":"K","x":61.5,"y":74.8},{"s":"K","x":62,"y":74.7},{"s":"K","x":62.5,"y":75.0},{"s":"K","x":63.0,"y":75.6},{"s":"K","x":63.6,"y":76.5},{"s":"K","x":64.2,"y":78.2},{"s":"K","x":64.7,"y":81.3},{"s":"K","x":65.2,"y":86.6},{"s":"K","x":65.7,"y":91.5},{"s":"K","x":66.2,"y":94.5},{"s":"K","x":66.6,"y":95.2},{"s":"K","x":66.9,"y":94.8},{"s":"K","x":67.2,"y":93.5},{"s":"K","x":67.65,"y":89.1},{"s":"K","x":68.1,"y":84.0},{"s":"K","x":68.7,"y":79.6},{"s":"K","x":69.2,"y":76.9},{"s":"K","x":69.7,"y":75.2},{"s":"K","x":70.2,"y":74.7},{"s":"K","x":70.5,"y":75.2},{"s":"K","x":71,"y":75.2},{"s":"K","x":71.5,"y":74.8},{"s":"K","x":72,"y":74.7},{"s":"K","x":72.5,"y":75.3},{"s":"K","x":73,"y":75.3},{"s":"K","x":73.5,"y":74.9},{"s":"K","x":74,"y":74.7},{"s":"K","x":74.5,"y":75.1},{"s":"K","x":75,"y":74.4},{"s":"K","x":75.5,"y":75.0},{"s":"K","x":76,"y":74.9},{"s":"K","x":76.5,"y":74.5},{"s":"K","x":77,"y":75.2},{"s":"K","x":77.5,"y":74.8},{"s":"K","x":78,"y":74.7},{"s":"K","x":78.5,"y":75.1},{"s":"K","x":79,"y":74.4},{"s":"K","x":79.5,"y":74.8},{"s":"K","x":80,"y":74.3}
],
"gam":[
{"p":"tl","x":36.9,"y":76.7},{"p":"tl","x":39.8,"y":74.0},{"p":"tl","x":46.1,"y":90.2},{"p":"tl","x":67.7,"y":89.7},{"p":"tl","x":37.4,"y":48.1},{"p":"tl","x":39.8,"y":45.8},{"p":"tl","x":46.0,"y":51.2},{"p":"tl","x":67.3,"y":53.9},{"p":"tl","x":37.2,"y":19.4},{"p":"tl","x":39.8,"y":18.5},{"p":"tl","x":46.1,"y":25.7},{"p":"tl","x":67.3,"y":25.7},
{"p":"tr","x":46.1,"y":89.0},{"p":"tr","x":66.9,"y":84.2},{"p":"tr","x":45.9,"y":71.4},{"p":"tr","x":66.7,"y":71.8},{"p":"tr","x":45.9,"y":48.1},{"p":"tr","x":66.9,"y":50.3},{"p":"tr","x":37.3,"y":32.0},{"p":"tr","x":39.7,"y":28.8},
{"p":"bl","x":46.3,"y":72.6},{"p":"bl","x":66.8,"y":72.6},{"p":"bl","x":46.9,"y":56.1},{"p":"bl","x":67.6,"y":58.4},{"p":"bl","x":37.1,"y":44.1},{"p":"bl","x":39.6,"y":42.8},{"p":"bl","x":37.1,"y":20.1},{"p":"bl","x":39.5,"y":19.6},{"p":"bl","x":46.2,"y":25.0},{"p":"bl","x":66.7,"y":25.0},
{"p":"br","x":45.8,"y":97.6},{"p":"br","x":67.0,"y":98.9},{"p":"br","x":37.9,"y":81.8},{"p":"br","x":40.4,"y":80.0},{"p":"br","x":37.1,"y":60.6},{"p":"br","x":39.9,"y":50.3},{"p":"br","x":46.0,"y":63.0},{"p":"br","x":66.9,"y":64.6},{"p":"br","x":39.8,"y":25.6}
],
"dots":[
{"p":"tl","x":20.9,"y":71.8},{"p":"tl","x":22.3,"y":72.2},{"p":"tl","x":23.5,"y":76.7},{"p":"tl","x":24.9,"y":70.2},{"p":"tl","x":26.6,"y":72.8},{"p":"tl","x":31.3,"y":72.2},{"p":"tl","x":32.6,"y":72.5},
{"p":"bl","x":20.85,"y":71.4},{"p":"bl","x":22.35,"y":73.8},{"p":"bl","x":23.6,"y":90.6},{"p":"bl","x":24.3,"y":68.7},{"p":"bl","x":25.5,"y":70.6},{"p":"bl","x":26.3,"y":78.1},{"p":"bl","x":28.1,"y":69.5},{"p":"bl","x":29.3,"y":66.8},{"p":"bl","x":31.0,"y":71.9},{"p":"bl","x":31.7,"y":67.1},{"p":"bl","x":32.4,"y":68.7},
{"p":"bl","x":21.1,"y":38.6},{"p":"bl","x":22.2,"y":39.7},{"p":"bl","x":23.6,"y":42.8},{"p":"bl","x":26.4,"y":41.0},{"p":"bl","x":30.8,"y":39.7},{"p":"bl","x":32.4,"y":41.2}
],
"lab":[
{"p":"tl","t":"10-Mo-Al","x":20.8,"y":84.3,"sub":0},{"p":"tl","t":"2","x":30.79,"y":84.3,"sub":1},{"p":"tl","t":"O","x":32.1,"y":84.3,"sub":0},{"p":"tl","t":"3","x":33.95,"y":84.3,"sub":1},{"p":"tl","t":"-700","x":35.26,"y":84.3,"sub":0},
{"p":"tl","t":"5-Mo-Al","x":21.0,"y":53.2,"sub":0},{"p":"tl","t":"2","x":29.67,"y":53.2,"sub":1},{"p":"tl","t":"O","x":30.99,"y":53.2,"sub":0},{"p":"tl","t":"3","x":32.83,"y":53.2,"sub":1},{"p":"tl","t":"-700","x":34.15,"y":53.2,"sub":0},
{"p":"tl","t":"Al(OH)","x":20.6,"y":17.4,"sub":0},{"p":"tl","t":"3","x":28.09,"y":17.4,"sub":1},{"p":"tl","t":"-700","x":29.41,"y":17.4,"sub":0},
{"p":"tr","t":"15-Mo-AlOH- 450","x":21.2,"y":91.9,"sub":0},{"p":"tr","t":"10- Mo-AlOH- 450","x":20.4,"y":62.1,"sub":0},{"p":"tr","t":"Al(OH)","x":20.1,"y":26.9,"sub":0},{"p":"tr","t":"3","x":27.88,"y":26.9,"sub":1},{"p":"tr","t":"- 450","x":29.08,"y":26.9,"sub":0},
{"p":"bl","t":"10-Mo-AlOH-700","x":21.2,"y":94.9,"sub":0},{"p":"bl","t":"10-Mo-Al","x":20.5,"y":53.9,"sub":0},{"p":"bl","t":"2","x":30.66,"y":53.9,"sub":1},{"p":"bl","t":"O","x":31.9,"y":53.9,"sub":0},{"p":"bl","t":"3","x":33.82,"y":53.9,"sub":1},{"p":"bl","t":"-700","x":35.06,"y":53.9,"sub":0},{"p":"bl","t":"Al(OH)","x":20.8,"y":27.6,"sub":0},{"p":"bl","t":"3","x":28.77,"y":27.6,"sub":1},{"p":"bl","t":"-700","x":30.0,"y":27.6,"sub":0},
{"p":"br","t":"10-Mo-AlOH- 450","x":20.2,"y":92.6,"sub":0},{"p":"br","t":"10- Mo-Al","x":20.4,"y":65.6,"sub":0},{"p":"br","t":"2","x":31.16,"y":65.6,"sub":1},{"p":"br","t":"O","x":32.4,"y":65.6,"sub":0},{"p":"br","t":"3","x":34.32,"y":65.6,"sub":1},{"p":"br","t":"- 450","x":35.55,"y":65.6,"sub":0},{"p":"br","t":"Al(OH)","x":20.7,"y":21.1,"sub":0},{"p":"br","t":"3","x":28.66,"y":21.1,"sub":1},{"p":"br","t":"- 450","x":29.89,"y":21.1,"sub":0}
],
"leg":[
{"p":"tl","x":48.0,"y":95.2},{"p":"tr","x":64.5,"y":94.0},{"p":"bl","x":47.6,"y":94.9},{"p":"br","x":50.2,"y":95.4}
],
"mo":[
{"p":"tl","t":"• : Al","x":62.6,"y":94.6,"sub":0},{"p":"tl","t":"2","x":68.14,"y":94.6,"sub":1},{"p":"tl","t":"(MoO","x":69.51,"y":94.6,"sub":0},{"p":"tl","t":"4","x":75.83,"y":94.6,"sub":1},{"p":"tl","t":")","x":77.21,"y":94.6,"sub":0},{"p":"tl","t":"3","x":78.03,"y":94.6,"sub":1},
{"p":"bl","t":"• : Al","x":62.4,"y":94.9,"sub":0},{"p":"bl","t":"2","x":67.94,"y":94.9,"sub":1},{"p":"bl","t":"(MoO","x":69.31,"y":94.9,"sub":0},{"p":"bl","t":"4","x":75.63,"y":94.9,"sub":1},{"p":"bl","t":")","x":77.01,"y":94.9,"sub":0},{"p":"bl","t":"3","x":77.83,"y":94.9,"sub":1}
]
},
"spacing":-2,
"vconcat":[
{"spacing":0,"hconcat":[
{"width":560,"height":372,
"layer":[
{"data":{"name":"tl"},"mark":{"type":"line","color":"black","strokeWidth":1,"interpolate":"monotone"},
"encoding":{"x":{"field":"x","type":"quantitative","scale":{"domain":[20,80],"nice":false,"zero":false},"axis":{"orient":"bottom","values":[20,30,40,50,60,70,80],"labelExpr":"datum.value % 20 === 0 ? datum.label : ''","tickSize":-6,"labelPadding":13,"labelFont":"Liberation Sans","labelFontSize":18,"title":"2 Théta (deg.)","titleFont":"Liberation Serif","titleFontSize":30,"titleFontWeight":"normal","titlePadding":0}},
"y":{"field":"y","type":"quantitative","scale":{"domain":[0,100],"nice":false,"zero":false},"axis":{"orient":"left","values":[2.4,8.5,14.6,20.7,26.8,32.8,38.9,45,51.1,57.2,63.3,69.4,75.5,81.5,87.6,93.7],"labels":false,"tickSize":-4,"title":null,"minExtent":20,"maxExtent":20}},
"detail":{"field":"s","type":"nominal"}}},
{"data":{"name":"dots"},"transform":[{"filter":"datum.p==='tl'"}],"mark":{"type":"point","filled":true,"color":"black","size":30,"opacity":1},
"encoding":{"x":{"field":"x","type":"quantitative","scale":{"domain":[20,80],"nice":false,"zero":false},"axis":null},"y":{"field":"y","type":"quantitative","scale":{"domain":[0,100],"nice":false,"zero":false},"axis":null}}},
{"data":{"name":"gam"},"transform":[{"filter":"datum.p==='tl'"}],"mark":{"type":"text","text":"γ","color":"#ff0000","font":"Liberation Serif","fontWeight":"bold","fontSize":27,"baseline":"middle","dy":-5},
"encoding":{"x":{"field":"x","type":"quantitative","scale":{"domain":[20,80],"nice":false,"zero":false},"axis":{"orient":"top","values":[20,30,40,50,60,70,80],"labels":false,"tickSize":-6,"title":null}},"y":{"field":"y","type":"quantitative","scale":{"domain":[0,100],"nice":false,"zero":false},"axis":{"orient":"right","values":[2.4,8.5,14.6,20.7,26.8,32.8,38.9,45,51.1,57.2,63.3,69.4,75.5,81.5,87.6,93.7],"labels":false,"tickSize":-4,"title":null,"minExtent":0,"maxExtent":0}}}},
{"data":{"name":"lab"},"transform":[{"filter":"datum.p==='tl' && datum.sub===0"}],"mark":{"type":"text","align":"left","baseline":"middle","font":"Liberation Sans","fontWeight":"bold","fontSize":22,"color":"black"},
"encoding":{"x":{"field":"x","type":"quantitative","scale":{"domain":[20,80],"nice":false,"zero":false},"axis":null},"y":{"field":"y","type":"quantitative","scale":{"domain":[0,100],"nice":false,"zero":false},"axis":null},"text":{"field":"t"}}},
{"data":{"name":"lab"},"transform":[{"filter":"datum.p==='tl' && datum.sub===1"}],"mark":{"type":"text","align":"left","baseline":"middle","font":"Liberation Sans","fontWeight":"bold","fontSize":22,"color":"black","dy":8},
"encoding":{"x":{"field":"x","type":"quantitative","scale":{"domain":[20,80],"nice":false,"zero":false},"axis":null},"y":{"field":"y","type":"quantitative","scale":{"domain":[0,100],"nice":false,"zero":false},"axis":null},"text":{"field":"t"}}},
{"data":{"name":"leg"},"transform":[{"filter":"datum.p==='tl'"}],"mark":{"type":"text","text":"γ","align":"right","baseline":"middle","font":"Liberation Serif","fontWeight":"bold","fontSize":24,"color":"#ff0000","dy":-3},
"encoding":{"x":{"field":"x","type":"quantitative","scale":{"domain":[20,80],"nice":false,"zero":false},"axis":null},"y":{"field":"y","type":"quantitative","scale":{"domain":[0,100],"nice":false,"zero":false},"axis":null}}},
{"data":{"name":"leg"},"transform":[{"filter":"datum.p==='tl'"}],"mark":{"type":"text","text":":Alumine γ","align":"left","baseline":"middle","font":"Liberation Serif","fontWeight":"bold","fontSize":23,"color":"black"},
"encoding":{"x":{"field":"x","type":"quantitative","scale":{"domain":[20,80],"nice":false,"zero":false},"axis":null},"y":{"field":"y","type":"quantitative","scale":{"domain":[0,100],"nice":false,"zero":false},"axis":null}}},
{"data":{"name":"mo"},"transform":[{"filter":"datum.p==='tl' && datum.sub===0"}],"mark":{"type":"text","align":"left","baseline":"middle","font":"Liberation Sans","fontWeight":"bold","fontSize":23,"color":"black"},
"encoding":{"x":{"field":"x","type":"quantitative","scale":{"domain":[20,80],"nice":false,"zero":false},"axis":null},"y":{"field":"y","type":"quantitative","scale":{"domain":[0,100],"nice":false,"zero":false},"axis":null},"text":{"field":"t"}}},
{"data":{"name":"mo"},"transform":[{"filter":"datum.p==='tl' && datum.sub===1"}],"mark":{"type":"text","align":"left","baseline":"middle","font":"Liberation Sans","fontWeight":"bold","fontSize":23,"color":"black","dy":8},
"encoding":{"x":{"field":"x","type":"quantitative","scale":{"domain":[20,80],"nice":false,"zero":false},"axis":null},"y":{"field":"y","type":"quantitative","scale":{"domain":[0,100],"nice":false,"zero":false},"axis":null},"text":{"field":"t"}}}
],
"resolve":{"axis":{"x":"independent","y":"independent"}}},
{"width":572,"height":372,
"layer":[
{"data":{"name":"tr"},"transform":[{"filter":"datum.s!=='F'"}],"mark":{"type":"line","color":"black","strokeWidth":1.8},
"encoding":{"x":{"field":"x","type":"quantitative","scale":{"domain":[20,80],"nice":false,"zero":false},"axis":{"orient":"bottom","values":[20,30,40,50,60,70,80],"labelExpr":"datum.value % 20 === 0 ? datum.label : ''","tickSize":-6,"labelPadding":13,"labelFont":"Liberation Serif","labelFontSize":18,"title":"2 Théta (deg.)","titleFont":"Liberation Serif","titleFontSize":30,"titleFontWeight":"normal","titlePadding":0}},
"y":{"field":"y","type":"quantitative","scale":{"domain":[0,100],"nice":false,"zero":false},"axis":{"orient":"left","values":[6,12.3,18.5,24.8,31.1,37.4,43.6,49.9,56.2,62.4,68.7,75,81.3,87.5,93.8],"labels":false,"tickSize":-4,"title":null,"minExtent":14,"maxExtent":14}},
"detail":{"field":"s","type":"nominal"}}},
{"data":{"name":"tr"},"transform":[{"filter":"datum.s==='F'"}],"mark":{"type":"line","color":"black","strokeWidth":1},
"encoding":{"x":{"field":"x","type":"quantitative","scale":{"domain":[20,80],"nice":false,"zero":false},"axis":null},"y":{"field":"y","type":"quantitative","scale":{"domain":[0,100],"nice":false,"zero":false},"axis":null}}},
{"data":{"name":"gam"},"transform":[{"filter":"datum.p==='tr'"}],"mark":{"type":"text","text":"γ","color":"#ff0000","font":"Liberation Serif","fontWeight":"bold","fontSize":27,"baseline":"middle","dy":-5},
"encoding":{"x":{"field":"x","type":"quantitative","scale":{"domain":[20,80],"nice":false,"zero":false},"axis":{"orient":"top","values":[20,30,40,50,60,70,80],"labels":false,"tickSize":-6,"title":null}},"y":{"field":"y","type":"quantitative","scale":{"domain":[0,100],"nice":false,"zero":false},"axis":{"orient":"right","values":[6,12.3,18.5,24.8,31.1,37.4,43.6,49.9,56.2,62.4,68.7,75,81.3,87.5,93.8],"labels":false,"tickSize":-4,"title":null,"minExtent":0,"maxExtent":0}}}},
{"data":{"name":"lab"},"transform":[{"filter":"datum.p==='tr' && datum.sub===0"}],"mark":{"type":"text","align":"left","baseline":"middle","font":"Liberation Serif","fontWeight":"bold","fontSize":23,"color":"black"},
"encoding":{"x":{"field":"x","type":"quantitative","scale":{"domain":[20,80],"nice":false,"zero":false},"axis":null},"y":{"field":"y","type":"quantitative","scale":{"domain":[0,100],"nice":false,"zero":false},"axis":null},"text":{"field":"t"}}},
{"data":{"name":"lab"},"transform":[{"filter":"datum.p==='tr' && datum.sub===1"}],"mark":{"type":"text","align":"left","baseline":"middle","font":"Liberation Serif","fontWeight":"bold","fontSize":23,"color":"black","dy":9},
"encoding":{"x":{"field":"x","type":"quantitative","scale":{"domain":[20,80],"nice":false,"zero":false},"axis":null},"y":{"field":"y","type":"quantitative","scale":{"domain":[0,100],"nice":false,"zero":false},"axis":null},"text":{"field":"t"}}},
{"data":{"name":"leg"},"transform":[{"filter":"datum.p==='tr'"}],"mark":{"type":"text","text":"γ","align":"right","baseline":"middle","font":"Liberation Serif","fontWeight":"bold","fontSize":24,"color":"#ff0000","dy":-1},
"encoding":{"x":{"field":"x","type":"quantitative","scale":{"domain":[20,80],"nice":false,"zero":false},"axis":null},"y":{"field":"y","type":"quantitative","scale":{"domain":[0,100],"nice":false,"zero":false},"axis":null}}},
{"data":{"name":"leg"},"transform":[{"filter":"datum.p==='tr'"}],"mark":{"type":"text","text":":Alumine γ","align":"left","baseline":"middle","font":"Liberation Serif","fontWeight":"bold","fontSize":24,"color":"black"},
"encoding":{"x":{"field":"x","type":"quantitative","scale":{"domain":[20,80],"nice":false,"zero":false},"axis":null},"y":{"field":"y","type":"quantitative","scale":{"domain":[0,100],"nice":false,"zero":false},"axis":null}}}
],
"resolve":{"axis":{"x":"independent","y":"independent"}}}
]},
{"spacing":0,"hconcat":[
{"width":560,"height":376,
"layer":[
{"data":{"name":"bl"},"mark":{"type":"line","color":"black","strokeWidth":1,"interpolate":"monotone"},
"encoding":{"x":{"field":"x","type":"quantitative","scale":{"domain":[20,80],"nice":false,"zero":false},"axis":{"orient":"bottom","values":[20,30,40,50,60,70,80],"labelExpr":"datum.value % 20 === 0 ? datum.label : ''","tickSize":-6,"labelPadding":12,"labelFont":"Liberation Sans","labelFontSize":18,"title":"2 Théta (deg.)","titleFont":"Liberation Serif","titleFontSize":30,"titleFontWeight":"normal","titlePadding":-4,"titleX":259}},
"y":{"field":"y","type":"quantitative","scale":{"domain":[0,100],"nice":false,"zero":false},"axis":{"orient":"left","values":[1.8,11.8,21.8,31.8,41.8,51.8,61.8,71.8,81.8,91.8],"labels":false,"tickSize":-4,"title":null,"minExtent":20,"maxExtent":20}},
"detail":{"field":"s","type":"nominal"}}},
{"data":{"name":"dots"},"transform":[{"filter":"datum.p==='bl'"}],"mark":{"type":"point","filled":true,"color":"black","size":30,"opacity":1},
"encoding":{"x":{"field":"x","type":"quantitative","scale":{"domain":[20,80],"nice":false,"zero":false},"axis":null},"y":{"field":"y","type":"quantitative","scale":{"domain":[0,100],"nice":false,"zero":false},"axis":null}}},
{"data":{"name":"gam"},"transform":[{"filter":"datum.p==='bl'"}],"mark":{"type":"text","text":"γ","color":"#ff0000","font":"Liberation Serif","fontWeight":"bold","fontSize":27,"baseline":"middle","dy":-5},
"encoding":{"x":{"field":"x","type":"quantitative","scale":{"domain":[20,80],"nice":false,"zero":false},"axis":{"orient":"top","values":[20,30,40,50,60,70,80],"labels":false,"tickSize":-6,"title":null}},"y":{"field":"y","type":"quantitative","scale":{"domain":[0,100],"nice":false,"zero":false},"axis":{"orient":"right","values":[1.8,11.8,21.8,31.8,41.8,51.8,61.8,71.8,81.8,91.8],"labels":false,"tickSize":-4,"title":null,"minExtent":0,"maxExtent":0}}}},
{"data":{"name":"lab"},"transform":[{"filter":"datum.p==='bl' && datum.sub===0"}],"mark":{"type":"text","align":"left","baseline":"middle","font":"Liberation Serif","fontWeight":"bold","fontSize":23,"color":"black"},
"encoding":{"x":{"field":"x","type":"quantitative","scale":{"domain":[20,80],"nice":false,"zero":false},"axis":null},"y":{"field":"y","type":"quantitative","scale":{"domain":[0,100],"nice":false,"zero":false},"axis":null},"text":{"field":"t"}}},
{"data":{"name":"lab"},"transform":[{"filter":"datum.p==='bl' && datum.sub===1"}],"mark":{"type":"text","align":"left","baseline":"middle","font":"Liberation Serif","fontWeight":"bold","fontSize":23,"color":"black","dy":9},
"encoding":{"x":{"field":"x","type":"quantitative","scale":{"domain":[20,80],"nice":false,"zero":false},"axis":null},"y":{"field":"y","type":"quantitative","scale":{"domain":[0,100],"nice":false,"zero":false},"axis":null},"text":{"field":"t"}}},
{"data":{"name":"leg"},"transform":[{"filter":"datum.p==='bl'"}],"mark":{"type":"text","text":"γ","align":"right","baseline":"middle","font":"Liberation Serif","fontWeight":"bold","fontSize":24,"color":"#ff0000","dy":-1},
"encoding":{"x":{"field":"x","type":"quantitative","scale":{"domain":[20,80],"nice":false,"zero":false},"axis":null},"y":{"field":"y","type":"quantitative","scale":{"domain":[0,100],"nice":false,"zero":false},"axis":null}}},
{"data":{"name":"leg"},"transform":[{"filter":"datum.p==='bl'"}],"mark":{"type":"text","text":":Alumine γ","align":"left","baseline":"middle","font":"Liberation Serif","fontWeight":"bold","fontSize":23.5,"color":"black"},
"encoding":{"x":{"field":"x","type":"quantitative","scale":{"domain":[20,80],"nice":false,"zero":false},"axis":null},"y":{"field":"y","type":"quantitative","scale":{"domain":[0,100],"nice":false,"zero":false},"axis":null}}},
{"data":{"name":"mo"},"transform":[{"filter":"datum.p==='bl' && datum.sub===0"}],"mark":{"type":"text","align":"left","baseline":"middle","font":"Liberation Sans","fontWeight":"bold","fontSize":23,"color":"black"},
"encoding":{"x":{"field":"x","type":"quantitative","scale":{"domain":[20,80],"nice":false,"zero":false},"axis":null},"y":{"field":"y","type":"quantitative","scale":{"domain":[0,100],"nice":false,"zero":false},"axis":null},"text":{"field":"t"}}},
{"data":{"name":"mo"},"transform":[{"filter":"datum.p==='bl' && datum.sub===1"}],"mark":{"type":"text","align":"left","baseline":"middle","font":"Liberation Sans","fontWeight":"bold","fontSize":23,"color":"black","dy":8},
"encoding":{"x":{"field":"x","type":"quantitative","scale":{"domain":[20,80],"nice":false,"zero":false},"axis":null},"y":{"field":"y","type":"quantitative","scale":{"domain":[0,100],"nice":false,"zero":false},"axis":null},"text":{"field":"t"}}}
],
"resolve":{"axis":{"x":"independent","y":"independent"}}},
{"width":559,"height":378,
"layer":[
{"data":{"name":"br"},"mark":{"type":"line","color":"black","strokeWidth":1.8},
"encoding":{"x":{"field":"x","type":"quantitative","scale":{"domain":[20,80],"nice":false,"zero":false},"axis":{"orient":"bottom","values":[20,30,40,50,60,70,80],"labelExpr":"datum.value % 20 === 0 ? datum.label : ''","tickSize":-6,"labelPadding":6,"labelFont":"Liberation Serif","labelFontSize":18,"title":"2 Théta (deg.)","titleFont":"Liberation Serif","titleFontSize":30,"titleFontWeight":"normal","titlePadding":2}},
"y":{"field":"y","type":"quantitative","scale":{"domain":[0,100],"nice":false,"zero":false},"axis":{"orient":"left","values":[6.3,12.5,18.7,24.9,31.1,37.3,43.5,49.7,55.9,62.1,68.3,74.5,80.7,86.9,93.1],"labels":false,"tickSize":-4,"title":null,"minExtent":27,"maxExtent":27}},
"detail":{"field":"s","type":"nominal"}}},
{"data":{"name":"gam"},"transform":[{"filter":"datum.p==='br'"}],"mark":{"type":"text","text":"γ","color":"#ff0000","font":"Liberation Serif","fontWeight":"bold","fontSize":27,"baseline":"middle","dy":-5},
"encoding":{"x":{"field":"x","type":"quantitative","scale":{"domain":[20,80],"nice":false,"zero":false},"axis":{"orient":"top","values":[20,30,40,50,60,70,80],"labels":false,"tickSize":-6,"title":null}},"y":{"field":"y","type":"quantitative","scale":{"domain":[0,100],"nice":false,"zero":false},"axis":{"orient":"right","values":[6.3,12.5,18.7,24.9,31.1,37.3,43.5,49.7,55.9,62.1,68.3,74.5,80.7,86.9,93.1],"labels":false,"tickSize":-4,"title":null,"minExtent":0,"maxExtent":0}}}},
{"data":{"name":"lab"},"transform":[{"filter":"datum.p==='br' && datum.sub===0"}],"mark":{"type":"text","align":"left","baseline":"middle","font":"Liberation Serif","fontWeight":"bold","fontSize":23,"color":"black"},
"encoding":{"x":{"field":"x","type":"quantitative","scale":{"domain":[20,80],"nice":false,"zero":false},"axis":null},"y":{"field":"y","type":"quantitative","scale":{"domain":[0,100],"nice":false,"zero":false},"axis":null},"text":{"field":"t"}}},
{"data":{"name":"lab"},"transform":[{"filter":"datum.p==='br' && datum.sub===1"}],"mark":{"type":"text","align":"left","baseline":"middle","font":"Liberation Serif","fontWeight":"bold","fontSize":23,"color":"black","dy":9},
"encoding":{"x":{"field":"x","type":"quantitative","scale":{"domain":[20,80],"nice":false,"zero":false},"axis":null},"y":{"field":"y","type":"quantitative","scale":{"domain":[0,100],"nice":false,"zero":false},"axis":null},"text":{"field":"t"}}},
{"data":{"name":"leg"},"transform":[{"filter":"datum.p==='br'"}],"mark":{"type":"text","text":"γ","align":"right","baseline":"middle","font":"Liberation Serif","fontWeight":"bold","fontSize":28,"color":"#ff0000","dy":-1},
"encoding":{"x":{"field":"x","type":"quantitative","scale":{"domain":[20,80],"nice":false,"zero":false},"axis":null},"y":{"field":"y","type":"quantitative","scale":{"domain":[0,100],"nice":false,"zero":false},"axis":null}}},
{"data":{"name":"leg"},"transform":[{"filter":"datum.p==='br'"}],"mark":{"type":"text","text":":Alumine γ","align":"left","baseline":"middle","font":"Liberation Serif","fontWeight":"bold","fontSize":27.5,"color":"black"},
"encoding":{"x":{"field":"x","type":"quantitative","scale":{"domain":[20,80],"nice":false,"zero":false},"axis":null},"y":{"field":"y","type":"quantitative","scale":{"domain":[0,100],"nice":false,"zero":false},"axis":null}}}
],
"resolve":{"axis":{"x":"independent","y":"independent"}}}
]}
]
}
